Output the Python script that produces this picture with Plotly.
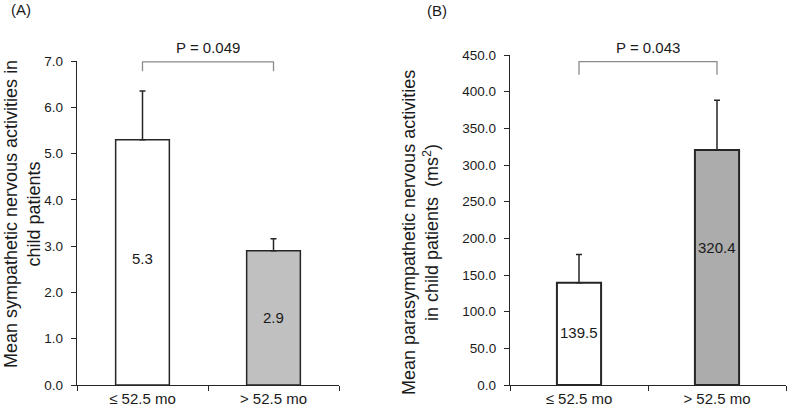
import plotly.graph_objects as go

categories = ["≤ 52.5 mo", "> 52.5 mo"]
sym_values = [5.3, 2.9]
sym_errors = [1.05, 0.26]
sym_labels = ["5.3", "2.9"]
sym_label_y = [2.74, 1.45]
para_values = [139.5, 320.4]
para_errors = [38.5, 68.0]
para_labels = ["139.5", "320.4"]
para_label_y = [72, 187]
sym_ticks = [0, 1, 2, 3, 4, 5, 6, 7]
para_ticks = [0, 50, 100, 150, 200, 250, 300, 350, 400, 450]
p_text = ["P = 0.049", "P = 0.043"]
bracket_a = [6.78, 6.98]
bracket_b = [423, 441]

W, H = 787, 410
FONT = "Liberation Sans, Arial, sans-serif"
EDGE = "#262626"

fig = go.Figure()
fig.add_trace(go.Bar(
    x=categories, y=sym_values, xaxis="x", yaxis="y", width=0.41,
    marker=dict(color=["#ffffff", "#c0c0c0"], line=dict(color=EDGE, width=1.5)),
    error_y=dict(type="data", array=sym_errors, arrayminus=[0, 0], symmetric=False,
                 color=EDGE, thickness=1.5, width=3),
    showlegend=False, hoverinfo="skip"))
fig.add_trace(go.Bar(
    x=categories, y=para_values, xaxis="x2", yaxis="y2", width=0.32,
    marker=dict(color=["#ffffff", "#acacac"], line=dict(color=EDGE, width=2)),
    error_y=dict(type="data", array=para_errors, arrayminus=[0, 0], symmetric=False,
                 color=EDGE, thickness=1.5, width=3),
    showlegend=False, hoverinfo="skip"))

def px(x):
    return x / W

def py(y):
    return 1 - y / H

axis_common = dict(showline=True, linecolor=EDGE, linewidth=1.3, ticks="outside",
                   ticklen=5, tickcolor=EDGE, showgrid=False, zeroline=False,
                   automargin=False)
ytick_font = dict(family=FONT, size=13.5, color="#1a1a1a")
xtick_font = dict(family=FONT, size=15, color="#1a1a1a")

fig.update_layout(
    width=W, height=H, margin=dict(l=0, r=0, t=0, b=0, autoexpand=False),
    plot_bgcolor="white", paper_bgcolor="white",
    font=dict(family=FONT, color="#1a1a1a"),
    xaxis=dict(domain=[px(77), px(339)], anchor="y", type="category",
               tickson="boundaries", tickfont=xtick_font, **axis_common),
    yaxis=dict(domain=[py(385), py(61)], anchor="x", range=[0, 7], tickvals=sym_ticks,
               tickformat=".1f", tickfont=ytick_font, ticklabelstandoff=5, **axis_common),
    xaxis2=dict(domain=[px(510), px(786)], anchor="y2", type="category",
                tickson="boundaries", tickfont=xtick_font, **axis_common),
    yaxis2=dict(domain=[py(385), py(55)], anchor="x2", range=[0, 450], tickvals=para_ticks,
                tickformat=".1f", tickfont=ytick_font, ticklabelstandoff=5, **axis_common),
)

# value labels
for i, c in enumerate(categories):
    fig.add_annotation(x=i, y=sym_label_y[i], xref="x", yref="y", text=sym_labels[i],
                       showarrow=False, font=dict(size=15, family=FONT))
    fig.add_annotation(x=i, y=para_label_y[i], xref="x2", yref="y2", text=para_labels[i],
                       showarrow=False, font=dict(size=15, family=FONT))

# brackets
fig.add_shape(type="path", xref="x", yref="y",
              path=f"M 0 {bracket_a[0]} L 0 {bracket_a[1]} L 1 {bracket_a[1]} L 1 {bracket_a[0]}",
              line=dict(color="#8c8c8c", width=1.3))
fig.add_shape(type="path", xref="x2", yref="y2",
              path=f"M 0 {bracket_b[0]} L 0 {bracket_b[1]} L 1 {bracket_b[1]} L 1 {bracket_b[0]}",
              line=dict(color="#8c8c8c", width=1.3))
fig.add_annotation(x=0.5, y=bracket_a[1], xref="x", yref="y", text=p_text[0], showarrow=False,
                   yanchor="bottom", yshift=4, font=dict(size=15, family=FONT))
fig.add_annotation(x=0.5, y=bracket_b[1], xref="x2", yref="y2", text=p_text[1], showarrow=False,
                   yanchor="bottom", yshift=4, font=dict(size=15, family=FONT))

# panel labels
fig.add_annotation(x=px(21), y=py(9), xref="paper", yref="paper", text="(A)", showarrow=False,
                   xanchor="center", yanchor="middle", font=dict(size=15, family=FONT))
fig.add_annotation(x=px(437), y=py(10), xref="paper", yref="paper", text="(B)", showarrow=False,
                   xanchor="center", yanchor="middle", font=dict(size=15, family=FONT))

# axis titles
fig.add_annotation(x=px(22), y=py(214), xref="paper", yref="paper", textangle=-90,
                   xanchor="center", yanchor="middle",
                   text="Mean sympathetic nervous activities in<br>child patients",
                   showarrow=False, font=dict(size=18, family=FONT))
fig.add_annotation(x=px(421), y=py(232), xref="paper", yref="paper", textangle=-90,
                   xanchor="center", yanchor="middle",
                   text="Mean parasympathetic nervous activities<br>in child patients  (ms<sup>2</sup>)",
                   showarrow=False, font=dict(size=18, family=FONT))

fig.write_html("out.html", config={"displayModeBar": False},
               post_script="document.body.style.margin='0px';document.body.style.overflow='hidden';")
